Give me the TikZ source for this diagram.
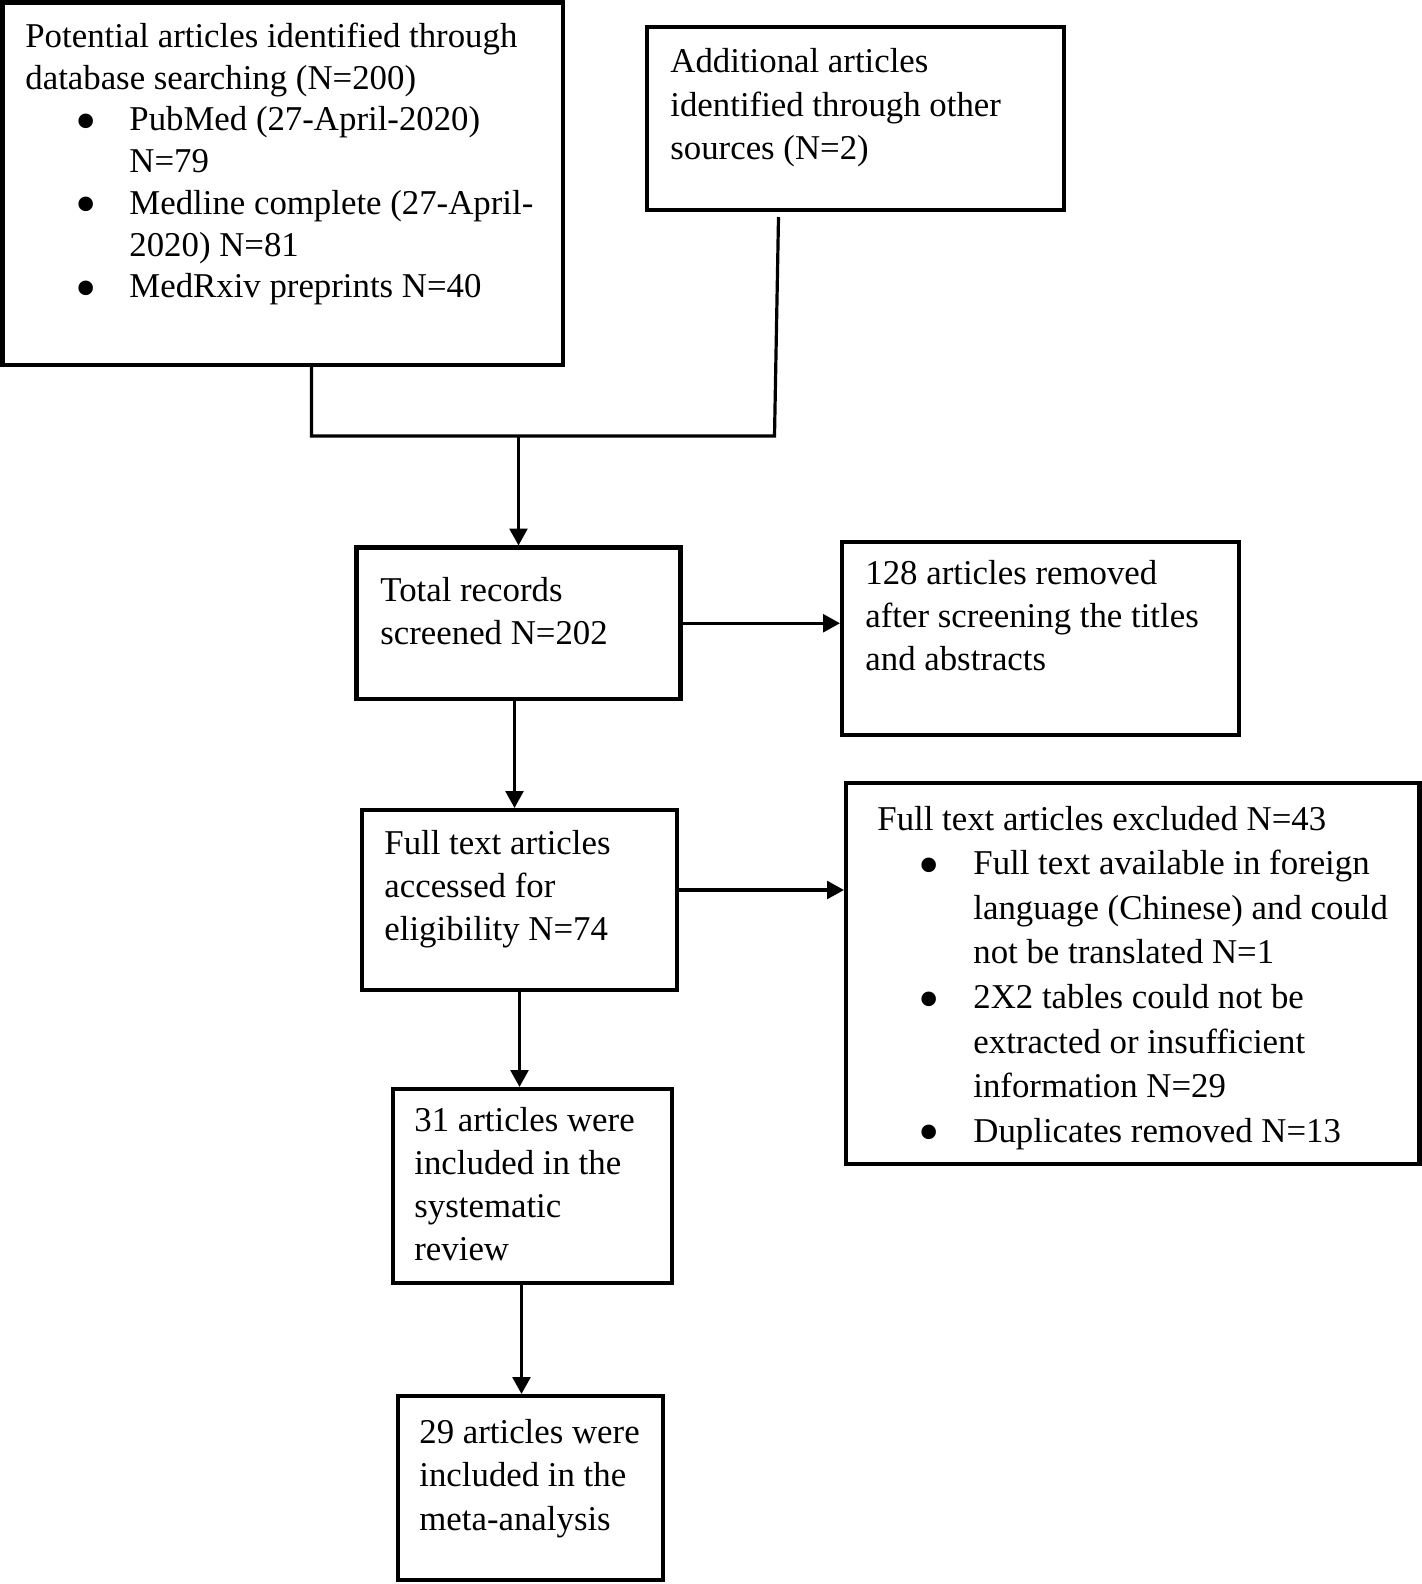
\documentclass[tikz,border=0pt]{standalone}
\usepackage{fontspec}
\usepackage{graphicx}
\setmainfont{Liberation Serif}
\usetikzlibrary{arrows.meta,fit}
\newcommand\txtblock[2]{\vtop{\baselineskip=#1\lineskiplimit=-50pt\lineskip=0pt #2}}
\newcommand\bigbullet{\raisebox{-5.3pt}{\scalebox{1.75}{\textbullet}}}
\newcommand\bul[3]{\hbox{\hspace*{#1}\makebox[0pt]{\bigbullet}\hspace*{#2}#3}}
\tikzset{
 box/.style={draw=black, line width=2.3pt, inner sep=0pt, outer sep=0pt, rectangle, line join=miter},
 conn/.style={line width=1.6pt, line join=miter},
 arr/.style={conn, -{Triangle[width=8.8pt,length=8.4pt]}, shorten >=1pt},
 txt/.style={inner sep=0pt, anchor=base west, font=\fontsize{17.4pt}{21.7pt}\selectfont},
}
\begin{document}
\begin{tikzpicture}[x=0.5pt,y=-0.5pt]
\useasboundingbox (0,0) rectangle (1422,1584);
% boxes
\node[box, fit={(2.7,2.7) (563,365)}] (b1) {};
\node[box, fit={(647,27) (1064,210)}] (b2) {};
\node[box, fit={(356.5,547.5) (680.5,699)}] (b3) {};
\node[box, fit={(842,542) (1239,735)}] (b4) {};
\node[box, fit={(362,810) (677,990)}] (b5) {};
\node[box, fit={(846,783) (1419.5,1164)}] (b6) {};
\node[box, fit={(393,1089) (672,1283)}] (b7) {};
\node[box, fit={(398,1396) (663,1580)}] (b8) {};
% texts
\node[txt] (t1) at (25,47.5) {\txtblock{20.85pt}{%
 \hbox{Potential articles identified through}
 \hbox{database searching (N=200)}
 \bul{30.5pt}{21.5pt}{PubMed (27-April-2020)}
 \hbox{\hspace*{52pt}N=79}
 \bul{30.5pt}{21.5pt}{Medline complete (27-April-}
 \hbox{\hspace*{52pt}2020) N=81}
 \bul{30.5pt}{21.5pt}{MedRxiv preprints N=40}}};
\node[txt] (t2) at (670,73) {\txtblock{21.7pt}{%
 \hbox{Additional articles}
 \hbox{identified through other}
 \hbox{sources (N=2)}}};
\node[txt] (t3) at (380,601) {\txtblock{21.7pt}{%
 \hbox{Total records}
 \hbox{screened N=202}}};
\node[txt] (t4) at (865,584) {\txtblock{21.5pt}{%
 \hbox{128 articles removed}
 \hbox{after screening the titles}
 \hbox{and abstracts}}};
\node[txt] (t5) at (384,854) {\txtblock{21.7pt}{%
 \hbox{Full text articles}
 \hbox{accessed for}
 \hbox{eligibility N=74}}};
\node[txt] (t6) at (877,830) {\txtblock{22.3pt}{%
 \hbox{Full text articles excluded N=43}
 \bul{25.75pt}{22.25pt}{Full text available in foreign}
 \hbox{\hspace*{48pt}language (Chinese) and could}
 \hbox{\hspace*{48pt}not be translated N=1}
 \bul{25.75pt}{22.25pt}{2X2 tables could not be}
 \hbox{\hspace*{48pt}extracted or insufficient}
 \hbox{\hspace*{48pt}information N=29}
 \bul{25.75pt}{22.25pt}{Duplicates removed N=13}}};
\node[txt] (t7) at (414,1131) {\txtblock{21.6pt}{%
 \hbox{31 articles were}
 \hbox{included in the}
 \hbox{systematic}
 \hbox{review}}};
\node[txt] (t8) at (419,1443) {\txtblock{21.9pt}{%
 \hbox{29 articles were}
 \hbox{included in the}
 \hbox{meta-analysis}}};
% connectors
\coordinate (m1) at (311.5,436);
\coordinate (m2) at (774.5,436);
\coordinate (e2) at (778.5,217);
\coordinate (j) at (518.5,436);
\draw[conn] (b1.south -| m1) -- (m1) -- (m2) -- (e2);
\draw[arr] (j) -- (j |- b3.north);
\draw[arr] (b3.east) -- (b3.east -| b4.west);
\draw[arr] ([xshift=-2pt]b3.south) -- ([xshift=-2pt]b3.south |- b5.north);
\draw[arr] ([yshift=5pt]b5.east) -- ([yshift=5pt]b5.east -| b6.west);
\draw[arr] (b5.south) -- (b5.south |- b7.north);
\draw[arr] ([xshift=-5.5pt]b7.south) -- ([xshift=-5.5pt]b7.south |- b8.north);
\end{tikzpicture}
\end{document}
